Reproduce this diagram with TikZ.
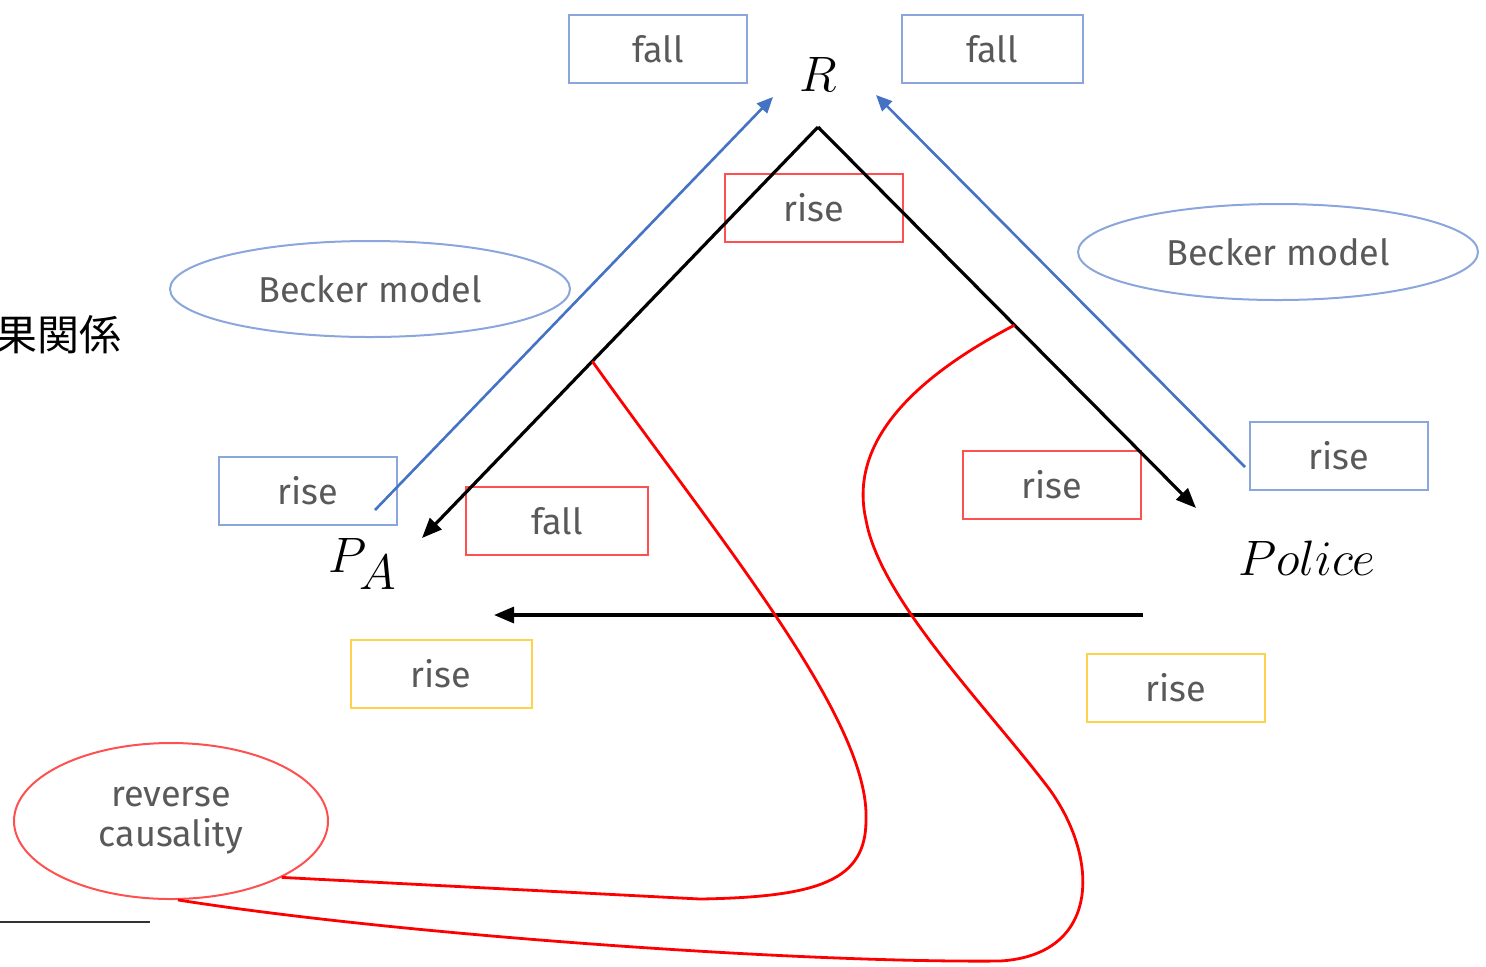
\documentclass[tikz,border=0pt]{standalone}
\usepackage{fontspec}
\setsansfont{Fira Sans}
\newfontfamily\jpfont{Noto Sans CJK JP}
\usetikzlibrary{arrows.meta,shapes.geometric,calc}
\definecolor{officeblue}{HTML}{4472C4}
\definecolor{boxblue}{HTML}{8AA6DC}
\definecolor{boxred}{HTML}{FF5050}
\definecolor{boxyellow}{HTML}{FFD24D}
\definecolor{txtgrey}{HTML}{595959}
\tikzset{
  tag/.style = {draw, line width=1pt, minimum width=89pt, minimum height=34pt, inner sep=0pt,
    text=txtgrey, font=\sffamily\fontsize{18}{20}\selectfont},
  bluetag/.style = {tag, draw=boxblue},
  redtag/.style = {tag, draw=boxred},
  yellowtag/.style = {tag, draw=boxyellow},
  oval/.style = {ellipse, draw, line width=1pt, inner sep=0pt, align=center,
    text=txtgrey, font=\sffamily\fontsize{18}{20}\selectfont},
  var/.style = {font=\fontsize{33}{35}\selectfont},
  link/.style = {line width=1.6pt, -{Triangle[length=10pt,width=8pt]}},
  bluelink/.style = {line width=1.3pt, officeblue, -{Triangle[length=8pt,width=7pt]}},
  loop/.style = {line width=1.4pt, red},
}
\begin{document}
\begin{tikzpicture}[x=0.5pt, y=-0.5pt]
	\useasboundingbox (0,0) rectangle (1486,966);
	% variables
	\node [var] (R) at (818,74) {$R$};
	\node [var] (PA) at (363,564) {$P_A$};
	\node [var] (Pol) at (1307,558) {$Police$};
	\node [anchor=west, font=\jpfont\fontsize{21}{23}\selectfont] (jp) at (-12,335) {果関係};
	% boxes
	\node [bluetag] (fallL) at (658,49) {fall};
	\node [bluetag, minimum width=90.5pt] (fallR) at (992,49) {fall};
	\node [redtag] (riseTop) at (814,208) {rise};
	\node [bluetag] (riseBL) at (308,491) {rise};
	\node [redtag, minimum width=91pt] (fallPA) at (557,521) {fall};
	\node [redtag] (riseRP) at (1052,485) {rise};
	\node [bluetag] (riseBR) at (1339,456) {rise};
	\node [yellowtag, minimum width=90.5pt] (riseYL) at (441,674) {rise};
	\node [yellowtag] (riseYR) at (1176,688) {rise};
	% ellipses
	\node [oval, draw=boxblue, minimum width=200pt, minimum height=48pt] (beckerL) at (370,289) {Becker model};
	\node [oval, draw=boxblue, minimum width=200pt, minimum height=48pt] (beckerR) at (1278,252) {Becker model};
	\node [oval, draw=boxred, minimum width=157pt, minimum height=78pt] (rev) at (171,821) {reverse\\causality};
	% black triangle
	\coordinate (apex) at (818,127);
	\coordinate (tipL) at (422,538);
	\coordinate (tipR) at (1196,508);
	\draw [link] (apex) -- (tipL);
	\draw [link] (apex) -- (tipR);
	\coordinate (hs) at (1143,615);
	\coordinate (he) at (494,615);
	\draw [link] (hs) -- (he);
	% blue arrows
	\coordinate (bl0) at (375,510);
	\coordinate (bl1) at (773,97);
	\coordinate (br0) at (1245,467);
	\coordinate (br1) at (876,95);
	\draw [bluelink] (bl0) -- (bl1);
	\draw [bluelink] (br0) -- (br1);
	% red loops
	\coordinate (rs1) at ($(apex)!0.57!(tipL)$);
	\coordinate (rs2) at ($(apex)!0.52!(tipR)$);
	\draw [loop] (rs1) .. controls (720,540) and (870,720) .. (866,820)
		.. controls (866,880) and (820,897) .. (700,899) -- (rev.-27);
	\draw [loop] (rs2) .. controls (900,385) and (850,450) .. (866,520)
		.. controls (880,600) and (990,710) .. (1050,790)
		.. controls (1100,860) and (1100,955) .. (1000,961)
		.. controls (800,963) and (400,935) .. (rev.-85);
	\draw [line width=0.7pt, black!80] (0,922) -- (150,922);
\end{tikzpicture}
\end{document}
